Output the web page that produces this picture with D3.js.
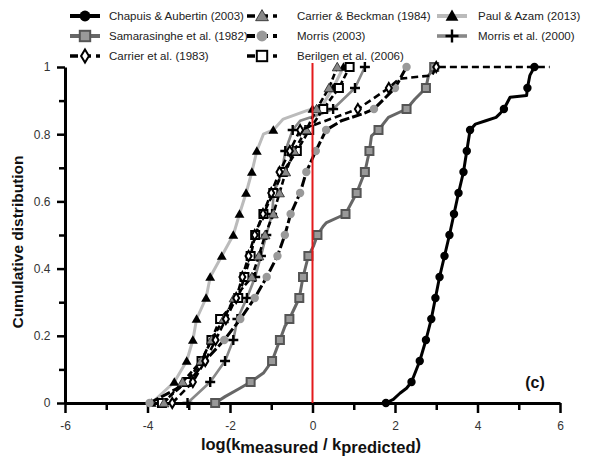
<!DOCTYPE html>
<html><head><meta charset="utf-8">
<script src="https://cdn.jsdelivr.net/npm/d3@7/dist/d3.min.js"></script>
<style>body{margin:0;background:#fff}svg{display:block;font-family:Arial,"Liberation Sans",sans-serif}</style>
</head><body>
<svg id="chart" width="592" height="459"></svg>
<script>
// cumulative fraction levels (marker levels)
const cumFrac = [0,0.0625,0.125,0.1875,0.25,0.3125,0.375,0.4375,0.5,0.5625,0.625,0.6875,0.75,0.8125,0.875,0.9375,1];

// log(kmeasured/kpredicted) at each cumulative level (marker points)
const chapuisAubertin2003 = [1.78,2.40,2.60,2.75,2.88,2.98,3.08,3.20,3.32,3.43,3.54,3.66,3.74,3.82,4.64,5.21,5.38];
const samarasinghe1982   = [-2.36,-1.50,-0.98,-0.79,-0.56,-0.32,-0.23,-0.10,0.12,0.80,1.07,1.27,1.38,1.60,2.28,2.75,2.95];
const carrier1983        = [-3.40,-2.90,-2.60,-2.35,-2.10,-1.85,-1.70,-1.55,-1.40,-1.20,-1.00,-0.80,-0.55,-0.30,1.10,1.85,3.00];
const carrier1983TailX   = 5.75;
const carrierBeckman1984 = [-3.60,-3.15,-2.70,-2.45,-2.15,-1.90,-1.47,-1.30,-1.15,-0.95,-0.80,-0.65,-0.45,-0.15,0.10,0.40,0.60];
const morris2003         = [-3.95,-2.98,-2.61,-2.14,-1.75,-1.40,-1.11,-0.85,-0.67,-0.53,-0.30,-0.15,0.08,0.33,1.49,2.00,2.28];
const berilgen2006       = [-3.65,-3.05,-2.69,-2.45,-2.24,-1.80,-1.65,-1.50,-1.39,-1.19,-0.95,-0.72,-0.38,-0.08,0.26,0.64,0.90];
const paulAzam2013       = [-3.90,-3.35,-3.05,-2.90,-2.81,-2.58,-2.48,-2.20,-1.92,-1.77,-1.61,-1.47,-1.35,-0.95,0.00,0.50,0.75];
const morris2000         = [-3.03,-2.48,-2.12,-1.92,-1.82,-1.59,-1.39,-1.25,-1.12,-0.98,-0.94,-0.74,-0.66,-0.48,0.50,1.03,1.27];

// extra curve points between markers [log ratio, cumulative]
const chapuisExtra = [[1.96,0.011],[2.12,0.029],[2.28,0.044],[3.95,0.83],[4.2,0.84],[4.45,0.85],[4.55,0.862],[4.79,0.91],[5.19,0.915],[5.27,0.975]];
const samarasingheExtra = [[-2.12,0.019],[-1.76,0.044],[-1.19,0.089],[-0.67,0.228],[0.02,0.466],[0.26,0.526],[0.34,0.537],[1.43,0.795],[1.84,0.85],[2.48,0.904],[2.81,0.974]];
const carrier1983Extra = [[2.1,0.965],[2.9,0.975]];
const morris2003Extra = [[0.7,0.84],[1.2,0.86]];
const paulExtra = [[-1.19,0.8],[-0.71,0.845],[-0.14,0.87],[0.26,0.89]];
const morris2000Extra = [[-0.3,0.84],[0.2,0.86]];

const xMajor = [-6,-4,-2,0,2,4,6];
const xMinor = [-5,-3,-1,1,3,5];
const yMajor = [0,0.2,0.4,0.6,0.8,1];
const yMinor = [0.1,0.3,0.5,0.7,0.9];
const legendNames = ["Chapuis & Aubertin (2003)","Samarasinghe et al. (1982)","Carrier et al. (1983)",
  "Carrier & Beckman (1984)","Morris (2003)","Berilgen et al. (2006)","Paul & Azam (2013)","Morris et al. (2000)"];

const series = [
  {name:legendNames[0], xs:chapuisAubertin2003, extra:chapuisExtra, color:"#000", w:3, dash:null, marker:"circle", mfill:"#000"},
  {name:legendNames[1], xs:samarasinghe1982, extra:samarasingheExtra, color:"#666", w:3, dash:null, marker:"square", mfill:"#999", mstroke:"#555"},
  {name:legendNames[2], xs:carrier1983, extra:carrier1983Extra, color:"#000", w:2.6, dash:"7,4", marker:"diamond", mfill:"#fff", mstroke:"#000", tail:carrier1983TailX},
  {name:legendNames[3], xs:carrierBeckman1984, extra:[], color:"#000", w:2.6, dash:"6,3", marker:"triangle", mfill:"#888", mstroke:"#222"},
  {name:legendNames[4], xs:morris2003, extra:morris2003Extra, color:"#000", w:3, dash:"10,3", marker:"circle", mfill:"#999"},
  {name:legendNames[5], xs:berilgen2006, extra:[], color:"#000", w:2.6, dash:"6,3", marker:"square", mfill:"#fff", mstroke:"#000"},
  {name:legendNames[6], xs:paulAzam2013, extra:paulExtra, color:"#bbb", w:3, dash:null, marker:"triangle", mfill:"#000"},
  {name:legendNames[7], xs:morris2000, extra:morris2000Extra, color:"#888", w:2.6, dash:null, marker:"plus", mfill:"none", mstroke:"#000"}
];

const svg = d3.select("#chart");
const x = d3.scaleLinear().domain([-6,6]).range([65,560]);
const y = d3.scaleLinear().domain([0,1]).range([403,67]);

function drawMarker(g, type, fill, stroke, cx, cy, scale=1){
  if(type==="circle"){
    g.append("circle").attr("cx",cx).attr("cy",cy).attr("r",4.2*scale).attr("fill",fill);
  } else if(type==="square"){
    const s=8*scale;
    g.append("rect").attr("x",cx-s/2).attr("y",cy-s/2).attr("width",s).attr("height",s)
      .attr("fill",fill).attr("stroke",stroke).attr("stroke-width",2);
  } else if(type==="triangle"){
    g.append("path").attr("transform",`translate(${cx},${cy+1})`)
      .attr("d",d3.symbol(d3.symbolTriangle, 42*scale*scale)())
      .attr("fill",fill).attr("stroke",stroke||"none").attr("stroke-width",stroke?0.8:0);
  } else if(type==="diamond"){
    const w=3*scale,h=5*scale;
    g.append("path").attr("d",`M${cx},${cy-h}L${cx+w},${cy}L${cx},${cy+h}L${cx-w},${cy}Z`)
      .attr("fill",fill).attr("stroke",stroke).attr("stroke-width",2);
  } else if(type==="plus"){
    const r=5*scale;
    g.append("path").attr("d",`M${cx-r},${cy}H${cx+r}M${cx},${cy-r}V${cy+r}`)
      .attr("stroke",stroke).attr("stroke-width",2.4).attr("fill","none");
  }
}

// axes
const gx = svg.append("g").attr("transform",`translate(0,${y(0)})`);
gx.call(d3.axisBottom(x).tickValues(xMinor).tickSize(7).tickSizeOuter(0).tickFormat(""));
gx.call(g=>g.select(".domain").remove());
const gx2 = svg.append("g").attr("transform",`translate(0,${y(0)})`);
gx2.call(d3.axisBottom(x).tickValues(xMajor).tickSize(10).tickSizeOuter(0).tickFormat(d=>d));
const gy = svg.append("g").attr("transform",`translate(${x(-6)},0)`);
gy.call(d3.axisLeft(y).tickValues(yMinor).tickSize(6).tickSizeOuter(0).tickFormat(""));
gy.call(g=>g.select(".domain").remove());
const gy2 = svg.append("g").attr("transform",`translate(${x(-6)},0)`);
gy2.call(d3.axisLeft(y).tickValues(yMajor).tickSize(8).tickSizeOuter(0).tickFormat(d=>d===0?"0":d===1?"1":d3.format(".1f")(d)));
svg.selectAll(".domain").attr("stroke","#000").attr("stroke-width",3);
svg.selectAll(".tick line").attr("stroke","#000").attr("stroke-width",2.5);
gx2.selectAll(".tick text").attr("font-size",12).attr("fill","#333").attr("dy","1.2em").attr("font-family","Arial, 'Liberation Sans', sans-serif");
gy2.selectAll(".tick text").attr("font-size",12).attr("fill","#333").attr("dx","-0.3em").attr("font-family","Arial, 'Liberation Sans', sans-serif");

// series (drawn bottom-up)
const drawOrder = [6,7,1,4,5,3,2,0];
const line = d3.line().x(d=>x(d[0])).y(d=>y(d[1]));
drawOrder.forEach(i=>{
  const s = series[i];
  const pts = s.xs.map((v,k)=>[v,cumFrac[k]]);
  let linePts = pts.concat(s.extra).sort((a,b)=>a[1]-b[1]||a[0]-b[0]);
  if(s.tail!==undefined) linePts = linePts.concat([[s.tail,1]]);
  svg.append("path").datum(linePts).attr("d",line).attr("fill","none")
    .attr("stroke",s.color).attr("stroke-width",s.w).attr("stroke-linejoin","round")
    .attr("stroke-dasharray",s.dash);
  const gm = svg.append("g");
  pts.forEach(p=>drawMarker(gm,s.marker,s.mfill,s.mstroke,x(p[0]),y(p[1])));
});

// red reference line at 0
svg.append("line").attr("x1",x(0)).attr("x2",x(0)).attr("y1",y(0)).attr("y2",y(1.012))
  .attr("stroke","#e41a1c").attr("stroke-width",2);

// axis titles
svg.append("text").attr("transform",`translate(23,242) rotate(-90)`).attr("text-anchor","middle")
  .attr("font-size",15.5).attr("font-weight","bold").attr("fill","#111").text("Cumulative distribution");
const xt = svg.append("text").attr("x",311).attr("y",450).attr("text-anchor","middle")
  .attr("font-size",16.5).attr("font-weight","bold").attr("fill","#111");
xt.append("tspan").text("log(k");
xt.append("tspan").attr("dy",3).text("measured");
xt.append("tspan").attr("dy",-3).text(" / k");
xt.append("tspan").attr("dy",3).text("predicted");
xt.append("tspan").attr("dy",-3).text(")");

svg.append("text").attr("x",535).attr("y",388).attr("text-anchor","middle")
  .attr("font-size",16).attr("font-weight","bold").attr("fill","#111").text("(c)");

// legend
const legCols = [{lx:70, tx:109},{lx:247, tx:297},{lx:437, tx:478}];
const legRows = [16,36,56];
series.forEach((s,i)=>{
  const c = legCols[Math.floor(i/3)], r = legRows[i%3];
  const g = svg.append("g");
  g.append("line").attr("x1",c.lx).attr("x2",c.lx+30).attr("y1",r).attr("y2",r)
    .attr("stroke",s.color).attr("stroke-width",s.w+1).attr("stroke-dasharray",s.dash? "8,5":null);
  drawMarker(g,s.marker,s.mfill,s.mstroke,c.lx+15,r,1.3);
  g.append("text").attr("x",c.tx).attr("y",r+4).attr("font-size",11.5).attr("fill","#222").text(s.name);
});
</script>
</body></html>
